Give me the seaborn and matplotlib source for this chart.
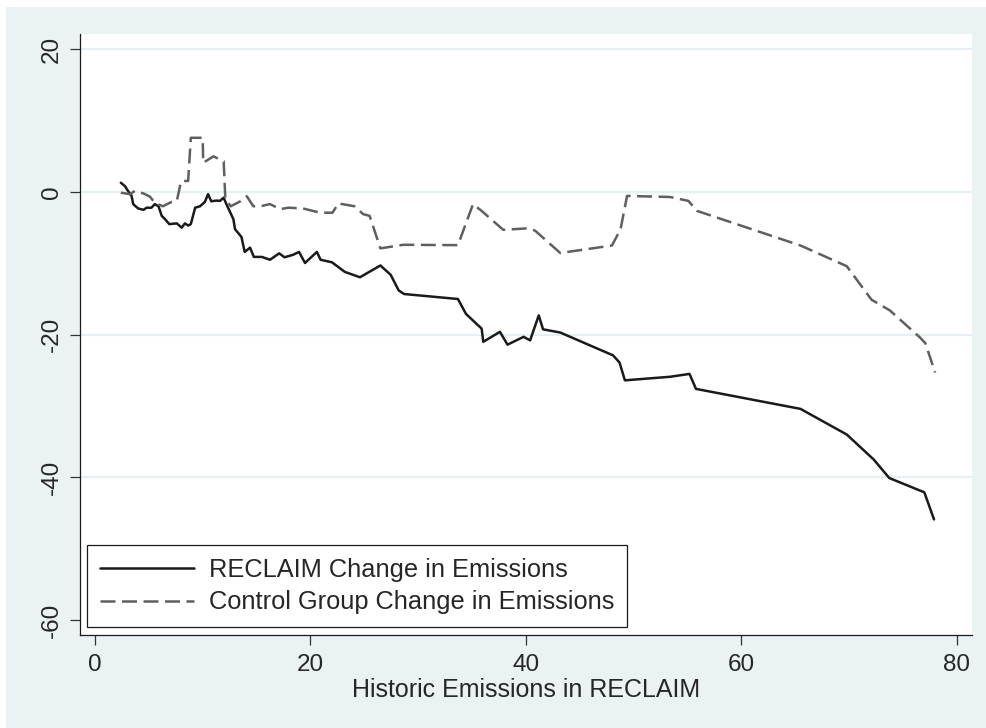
import numpy as np
import pandas as pd
import matplotlib
matplotlib.use("Agg")
import matplotlib.pyplot as plt
from matplotlib.patches import Rectangle
import seaborn as sns

# values
reclaim_x = [2.4, 2.8, 2.95, 3.4, 3.55, 4.0, 4.5, 4.8, 5.25, 5.55, 5.9, 6.2, 6.5,
             6.9, 7.6, 8.05, 8.35, 8.65, 8.9, 9.3, 9.75, 10.2, 10.5, 10.8, 11.3,
             11.6, 11.95, 12.2, 12.85, 13.0, 13.6, 13.9, 14.4, 14.75, 15.5, 16.25,
             17.1, 17.6, 18.4, 18.95, 19.5, 20.6, 20.95, 22.0, 23.2, 24.6, 26.5,
             27.45, 28.2, 28.7, 33.7, 34.45, 35.9, 36.05, 37.6, 38.3, 39.8, 40.4,
             41.2, 41.6, 43.2, 48.1, 48.7, 49.2, 53.4, 55.2, 55.8, 65.5, 69.8,
             72.3, 73.75, 77.0, 77.9]
reclaim_y = [1.3, 0.8, 0.4, -0.55, -1.7, -2.3, -2.5, -2.2, -2.2, -1.7, -2.0, -3.35,
             -3.8, -4.5, -4.4, -5.0, -4.4, -4.7, -4.5, -2.2, -2.0, -1.4, -0.3, -1.3,
             -1.2, -1.25, -0.8, -1.7, -3.8, -5.2, -6.3, -8.4, -7.8, -9.1, -9.1,
             -9.5, -8.6, -9.15, -8.8, -8.4, -9.95, -8.4, -9.5, -9.85, -11.2,
             -11.95, -10.3, -11.6, -13.8, -14.3, -15.0, -17.1, -19.15, -21.0,
             -19.6, -21.4, -20.3, -20.8, -17.3, -19.25, -19.7, -22.9, -23.9,
             -26.4, -25.9, -25.5, -27.6, -30.4, -34.0, -37.5, -40.1, -42.1, -45.9]

control_x = [2.4, 3.25, 3.7, 4.5, 5.1, 5.55, 6.3, 7.1, 7.6, 7.9, 8.05, 8.65, 8.9,
             10.0, 10.05, 11.0, 11.95, 12.1, 12.6, 13.5, 14.1, 14.7, 15.5, 16.25,
             17.2, 17.95, 19.3, 20.9, 22.05, 22.6, 24.1, 24.9, 25.5, 26.5, 28.2,
             28.6, 33.7, 35.1, 35.9, 37.9, 40.1, 40.85, 43.2, 48.0, 48.8, 49.4,
             53.4, 55.1, 55.9, 65.5, 69.8, 72.1, 73.8, 76.6, 77.1, 78.0]
control_y = [-0.1, -0.3, 0.15, -0.2, -0.65, -1.5, -2.0, -1.4, -1.25, 0.85, 1.55,
             1.55, 7.6, 7.6, 4.1, 5.0, 4.3, -0.9, -2.0, -1.3, -0.6, -2.0, -1.95,
             -1.7, -2.4, -2.2, -2.3, -2.9, -2.9, -1.6, -2.0, -3.1, -3.35, -7.9,
             -7.5, -7.4, -7.45, -1.7, -2.65, -5.3, -5.1, -5.4, -8.55, -7.5, -5.2,
             -0.55, -0.7, -1.25, -2.65, -7.5, -10.4, -15.1, -16.6, -20.4, -21.2,
             -25.3]

series_names = ["RECLAIM Change in Emissions", "Control Group Change in Emissions"]
x_ticks = [0, 20, 40, 60, 80]
y_ticks = [-60, -40, -20, 0, 20]

df = pd.concat([
    pd.DataFrame({"x": reclaim_x, "y": reclaim_y, "series": series_names[0]}),
    pd.DataFrame({"x": control_x, "y": control_y, "series": series_names[1]}),
], ignore_index=True)

sns.set_theme(style="white")
plt.rcParams["font.family"] = ["Liberation Sans", "DejaVu Sans"]
plt.rcParams["font.size"] = 18

bg = "#EAF2F3"
fig = plt.figure(figsize=(9.86, 7.28), dpi=100)
fig.patch.set_facecolor("white")
fig.patches.append(Rectangle((6 / 986, 0), 1 - 6 / 986, 1 - 7 / 728,
                             transform=fig.transFigure, facecolor=bg,
                             edgecolor="none", zorder=-10))
ax = fig.add_axes([80 / 986, 93 / 728, 891.5 / 986, 601 / 728])
ax.set_facecolor("white")

for yt in [20, 0, -20, -40]:
    ax.axhline(yt, color="#E6F0F2", lw=1.6, zorder=0)

sns.lineplot(data=df[df["series"] == series_names[0]], x="x", y="y",
             color="#1A1A1A", lw=1.8, estimator=None, sort=False, ax=ax,
             label=series_names[0])
sns.lineplot(data=df[df["series"] == series_names[1]], x="x", y="y",
             color="#5F5F5F", lw=1.8, estimator=None, sort=False, ax=ax,
             label=series_names[1], dashes=False)
ax.lines[-1].set_dashes([6, 2.6])

ax.set_xlim(-1.39, 81.38)
ax.set_ylim(-62.1, 22.15)
ax.set_xticks(x_ticks)
ax.set_yticks(y_ticks)
ax.set_yticklabels([str(v) for v in y_ticks], rotation=90, va="center")
ax.tick_params(axis="both", which="major", length=7.5, width=0.9,
               color="#333333", labelsize=17.5, bottom=True, left=True)
ax.tick_params(axis="x", pad=6)
ax.tick_params(axis="y", pad=5)
ax.set_xlabel("Historic Emissions in RECLAIM", fontsize=18, labelpad=1.5)
ax.set_ylabel("")

for side in ["top", "right"]:
    ax.spines[side].set_visible(False)
for side in ["left", "bottom"]:
    ax.spines[side].set_color("#1A1A1A")
    ax.spines[side].set_linewidth(0.9)

leg = ax.legend(loc="lower left", bbox_to_anchor=(0.008, 0.013),
                borderaxespad=0, frameon=True, fancybox=False,
                fontsize=18.3, handlelength=3.7, handletextpad=0.6,
                labelspacing=0.35, borderpad=0.5)
leg.get_frame().set_edgecolor("#1A1A1A")
leg.get_frame().set_linewidth(0.9)
leg.get_frame().set_facecolor("white")
leg.get_frame().set_alpha(1)

fig.savefig("out.png", dpi=100, facecolor=fig.get_facecolor())
